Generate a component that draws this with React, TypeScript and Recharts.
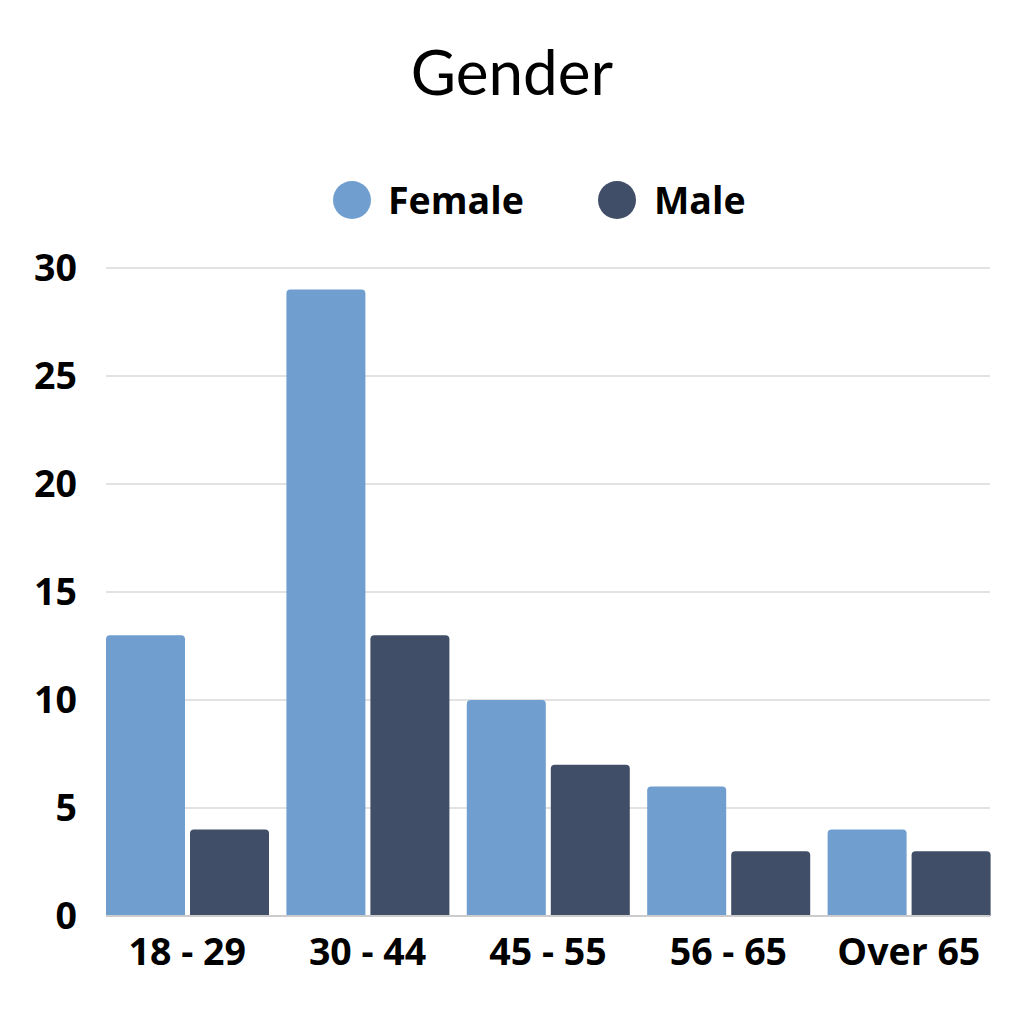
import React from 'react';
import { BarChart, Bar, XAxis, YAxis, CartesianGrid } from 'recharts';

const ageGroups = ['18 - 29', '30 - 44', '45 - 55', '56 - 65', 'Over 65'];
const femaleValues = [13, 29, 10, 6, 4];
const maleValues = [4, 13, 7, 3, 3];
const yTicks = [0, 5, 10, 15, 20, 25, 30];

const FEMALE = '#6f9ecf';
const MALE = '#404e68';
const labelFont = '"Open Sans", sans-serif';
const labelSize = 37.5;

const data = ageGroups.map((group, i) => ({
  group,
  Female: femaleValues[i],
  Male: maleValues[i],
}));

const legendItems = [
  { name: 'Female', color: FEMALE, cx: 352, textX: 388 },
  { name: 'Male', color: MALE, cx: 617, textX: 654 },
];

const App: React.FC = () => {
  return (
    <div style={{ position: 'relative', width: 1024, height: 1024, margin: -8, background: '#fff' }}>
      <BarChart
        width={1024}
        height={1024}
        data={data}
        margin={{ top: 268, right: 34, bottom: 48, left: 0 }}
        barCategoryGap={9}
        barGap={5}
      >
        <CartesianGrid vertical={false} stroke="#d9d9d9" strokeWidth={1.5} />
        <XAxis
          dataKey="group"
          height={60}
          padding={{ left: -9, right: -9 }}
          axisLine={{ stroke: '#cccccc', strokeWidth: 2 }}
          tickLine={false}
          tickSize={0}
          tickMargin={22}
          tick={{ fill: '#000', fontSize: labelSize, fontWeight: 700, fontFamily: labelFont }}
        />
        <YAxis
          width={106}
          domain={[0, 30]}
          ticks={yTicks}
          axisLine={false}
          tickLine={false}
          tickSize={0}
          tickMargin={29}
          tick={{ fill: '#000', fontSize: labelSize, fontWeight: 700, fontFamily: labelFont }}
        />
        <Bar dataKey="Female" fill={FEMALE} radius={[4, 4, 0, 0]} isAnimationActive={false} />
        <Bar dataKey="Male" fill={MALE} radius={[4, 4, 0, 0]} isAnimationActive={false} />
      </BarChart>

      {/* Title and legend */}
      <svg width={1024} height={240} style={{ position: 'absolute', left: 0, top: 0, pointerEvents: 'none' }}>
        <text x={512} y={95} textAnchor="middle" fontFamily="Lato, sans-serif" fontSize={62} fill="#000">
          Gender
        </text>
        {legendItems.map(item => (
          <g key={item.name}>
            <circle cx={item.cx} cy={200} r={19} fill={item.color} />
            <text x={item.textX} y={214} fontFamily={labelFont} fontWeight={700} fontSize={labelSize} fill="#000">
              {item.name}
            </text>
          </g>
        ))}
      </svg>
    </div>
  );
};

export default App;
